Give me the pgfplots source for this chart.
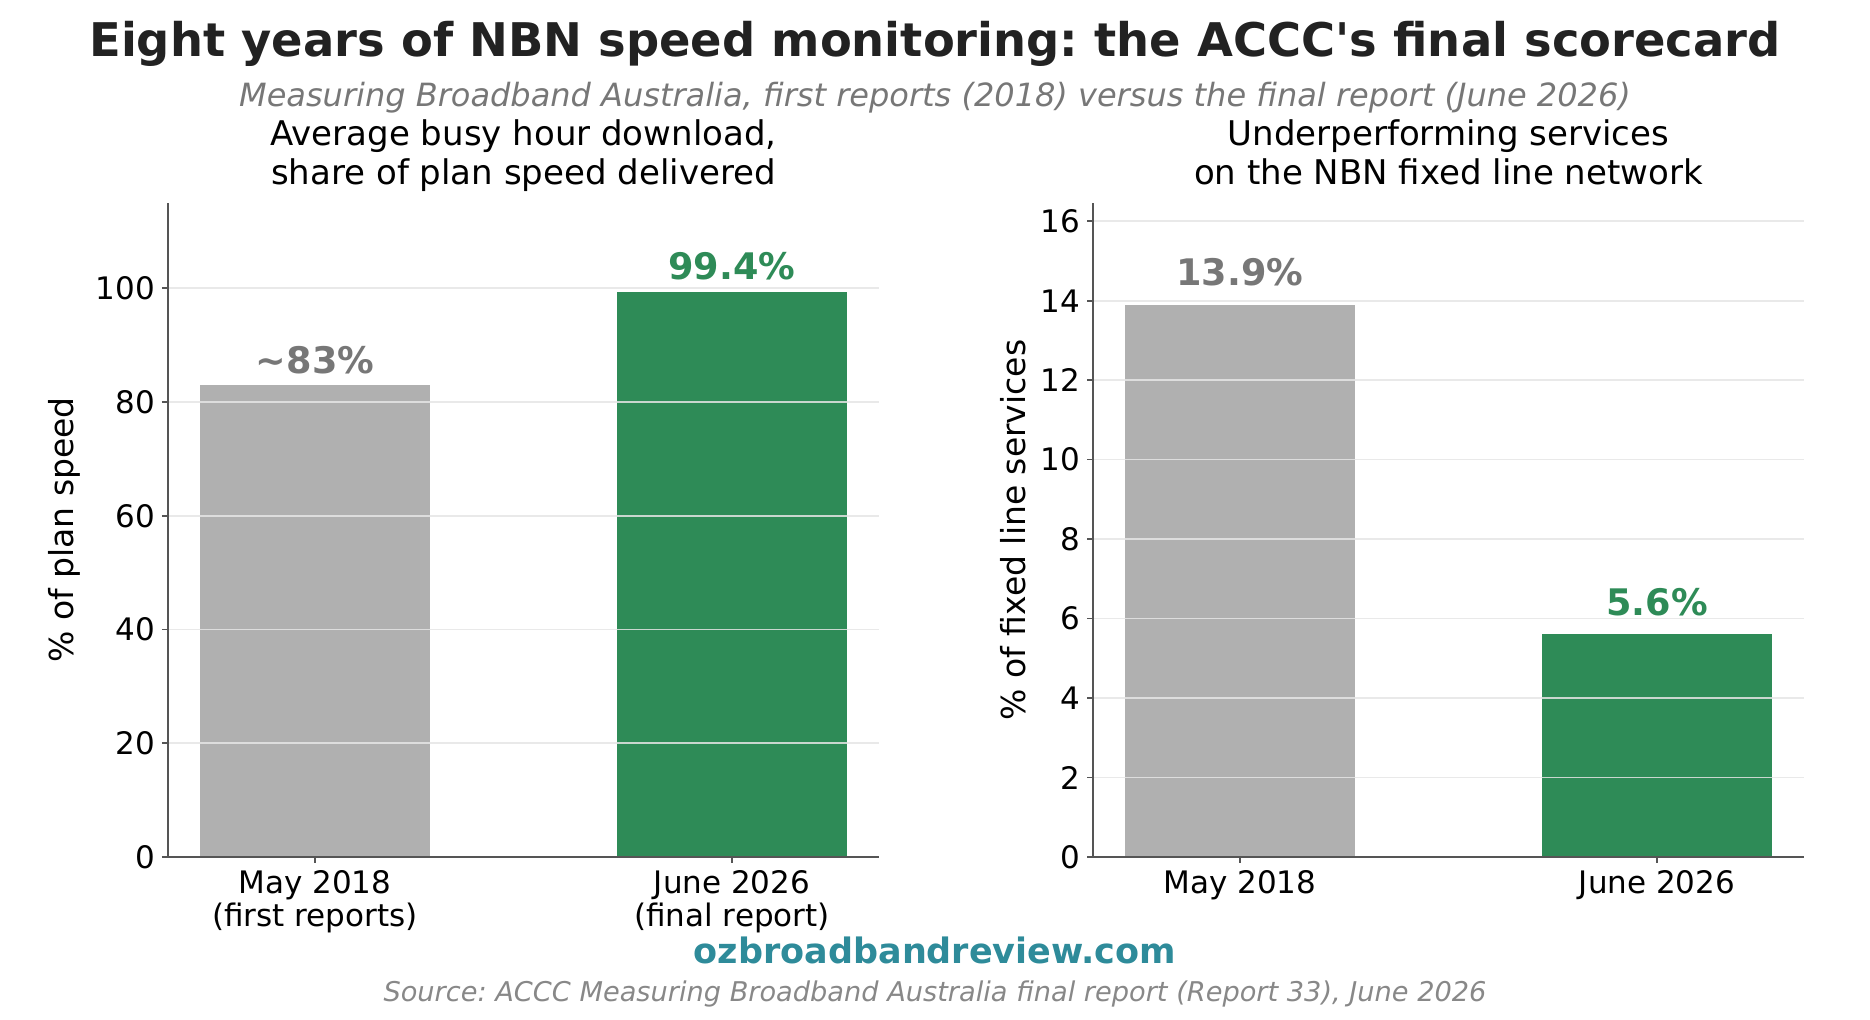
\documentclass[border=0pt]{standalone}
\usepackage{fontspec}
\setmainfont{DejaVu Sans}
\usepackage{pgfplots}
\pgfplotsset{compat=1.18}
\frenchspacing

\definecolor{barGrey}{HTML}{B0B0B0}
\definecolor{barGreen}{HTML}{2E8B57}
\definecolor{labGrey}{HTML}{777777}
\definecolor{titleInk}{HTML}{222222}
\definecolor{subInk}{HTML}{777777}
\definecolor{srcInk}{HTML}{888888}
\definecolor{webTeal}{HTML}{2E8B9A}
\definecolor{spine}{HTML}{555555}

\pgfplotsset{
  scorecard/.style={
    scale only axis, width=355.5pt, height=327pt, anchor=south west,
    xmin=-0.3525, xmax=1.3525, ymin=0,
    axis lines*=left, axis line style={spine, line width=1pt, -},
    xtick={0,1}, tick align=outside, major tick length=3pt,
    tick style={spine, line width=0.8pt},
    ymajorgrids, grid style={white!90!black, line width=0.8pt, opacity=0.85},
    axis on top,
    tick label style={font=\fontsize{15.5}{16.5}\selectfont, black},
    /pgf/number format/assume math mode=true,
    xticklabel style={align=center},
    ylabel style={font=\fontsize{16.5}{18}\selectfont, anchor=base},
  },
  onebar/.style={ybar, bar width=0.55, bar shift=0pt, draw=none, fill=#1,
    nodes near coords style={anchor=base, inner sep=0pt,
      font=\fontsize{18.3}{20}\selectfont\bfseries, text=#1}},
}

\begin{document}
\begin{tikzpicture}
\path[use as bounding box] (0,0) rectangle (935pt,510pt);

\node[anchor=base, text=titleInk, font=\fontsize{23.2}{26}\selectfont\bfseries]
  at (467.5pt,481.5pt) {Eight years of NBN speed monitoring: the ACCC\textquotesingle s final scorecard};
\node[anchor=base, text=subInk, font=\fontsize{16}{18}\selectfont\itshape]
  at (467.5pt,456.5pt) {Measuring Broadband Australia, first reports (2018) versus the final report (June 2026)};

% left panel
\node[anchor=base, font=\fontsize{17}{19}\selectfont] at (261.75pt,437pt) {Average busy hour download,};
\node[anchor=base, font=\fontsize{17}{19}\selectfont] at (261.75pt,417.5pt) {share of plan speed delivered};
\begin{axis}[scorecard, at={(84pt,81.5pt)},
  ymax=115, ytick={0,20,...,100},
  xticklabels={{May 2018\\(first reports)},{June 2026\\(final report)}},
  ylabel={\% of plan speed},
  ylabel style={at={(axis description cs:-0.1336,0.5)}},
  ]
\addplot[onebar=barGrey, nodes near coords={\textasciitilde 83\%},
  nodes near coords style={yshift=5.85pt, text=labGrey}] coordinates {(0,83)};
\addplot[onebar=barGreen, nodes near coords={99.4\%},
  nodes near coords style={yshift=5.85pt}] coordinates {(1,99.4)};
\end{axis}

% right panel
\node[anchor=base, font=\fontsize{17}{19}\selectfont] at (724.25pt,437pt) {Underperforming services};
\node[anchor=base, font=\fontsize{17}{19}\selectfont] at (724.25pt,417.5pt) {on the NBN fixed line network};
\begin{axis}[scorecard, at={(546.5pt,81.5pt)},
  ymax=16.46, ytick={0,2,...,16},
  xticklabels={May 2018,June 2026},
  ylabel={\% of fixed line services},
  ylabel style={at={(axis description cs:-0.0956,0.5)}},
  ]
\addplot[onebar=barGrey, nodes near coords={13.9\%},
  nodes near coords style={yshift=9.5pt, text=labGrey}] coordinates {(0,13.9)};
\addplot[onebar=barGreen, nodes near coords={5.6\%},
  nodes near coords style={yshift=9.5pt}] coordinates {(1,5.6)};
\end{axis}

\node[anchor=base, text=webTeal, font=\fontsize{17.5}{20}\selectfont\bfseries]
  at (467.5pt,28pt) {ozbroadbandreview.com};
\node[anchor=base, text=srcInk, font=\fontsize{13.6}{15}\selectfont\itshape]
  at (467.5pt,9pt) {Source: ACCC Measuring Broadband Australia final report (Report 33), June 2026};
\end{tikzpicture}
\end{document}
